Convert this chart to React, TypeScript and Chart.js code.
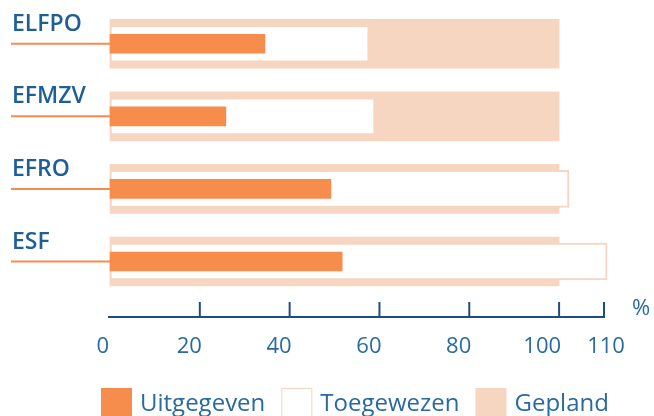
import React, { useEffect, useRef } from "react";
import { Chart, registerables } from "chart.js";

Chart.register(...registerables);

const categories = ["ELFPO", "EFMZV", "EFRO", "ESF"];
const seriesNames = ["Uitgegeven", "Toegewezen", "Gepland"];
const uitgegeven = [34.5, 25.8, 49.2, 51.7];
const toegewezen = [57.7, 59.0, 102.2, 110.7];
const gepland = [100, 100, 100, 100];
const axisTicks = [0, 20, 40, 60, 80, 100, 110];
const axisUnit = "%";

const ORANGE = "#f68d4d";
const PEACH = "#f6d6c0";
const LABEL_BLUE = "#1f5f96";
const TEXT_BLUE = "#2a6aa0";
const AXIS_BLUE = "#1f4e7e";
const FONT = '"Open Sans", "Noto Sans", sans-serif';

const decorPlugin = {
  id: "decor",
  afterDraw(chart: any) {
    const ctx = chart.ctx as CanvasRenderingContext2D;
    const xs = chart.scales.x;
    const ys = chart.scales.y;
    ctx.save();
    const x0 = xs.getPixelForValue(0);
    // category labels and leader lines
    categories.forEach((c, i) => {
      const y = ys.getPixelForValue(i);
      ctx.strokeStyle = ORANGE;
      ctx.lineWidth = 2;
      ctx.beginPath();
      ctx.moveTo(11, y);
      ctx.lineTo(x0, y);
      ctx.stroke();
      ctx.fillStyle = LABEL_BLUE;
      ctx.font = `600 23px ${FONT}`;
      ctx.textAlign = "left";
      ctx.textBaseline = "alphabetic";
      ctx.fillText(c, 12, y - 13);
    });
    // x axis
    const axisY = 317;
    const lastX = xs.getPixelForValue(axisTicks[axisTicks.length - 1]);
    ctx.strokeStyle = AXIS_BLUE;
    ctx.lineWidth = 2;
    ctx.beginPath();
    ctx.moveTo(x0 - 2, axisY);
    ctx.lineTo(lastX + 1, axisY);
    ctx.stroke();
    axisTicks.forEach((t, i) => {
      const x = xs.getPixelForValue(t);
      if (t !== 0) {
        ctx.beginPath();
        ctx.moveTo(x, axisY - 15);
        ctx.lineTo(x, axisY);
        ctx.stroke();
      }
      ctx.fillStyle = TEXT_BLUE;
      ctx.font = `22px ${FONT}`;
      ctx.textBaseline = "alphabetic";
      if (i === axisTicks.length - 1) {
        ctx.textAlign = "center";
        ctx.fillText(String(t), x + 2, 353);
      } else {
        ctx.textAlign = "right";
        ctx.fillText(String(t), t === 0 ? x - 1 : x + 2, 353);
      }
    });
    ctx.textAlign = "left";
    ctx.font = `22px ${FONT}`;
    ctx.fillText(axisUnit, 632, 315);
    // legend
    let lx = 101;
    const boxTop = 388;
    const box = 31;
    ctx.font = `24px ${FONT}`;
    chart.data.datasets.forEach((ds: any) => {
      ctx.fillStyle = ds.legendFill;
      ctx.fillRect(lx, boxTop, box, box);
      if (ds.legendStroke) {
        ctx.strokeStyle = ds.legendStroke;
        ctx.lineWidth = 1;
        ctx.strokeRect(lx + 0.5, boxTop + 0.5, box - 1, box - 1);
      }
      const tx = lx + box + 8;
      ctx.fillStyle = TEXT_BLUE;
      ctx.textAlign = "left";
      ctx.fillText(ds.label, tx, 411);
      lx = tx + ctx.measureText(ds.label).width + 16;
    });
    ctx.restore();
  },
};

export default function App() {
  const ref = useRef<HTMLCanvasElement | null>(null);
  useEffect(() => {
    if (!ref.current) return;
    const toPts = (arr: number[]) => arr.map((v, i) => ({ x: v, y: i }));
    const chart = new Chart(ref.current, {
      type: "bar",
      data: {
        datasets: [
          {
            label: seriesNames[0],
            data: toPts(uitgegeven),
            backgroundColor: ORANGE,
            borderWidth: 0,
            barThickness: 19,
            grouped: false,
            clip: false,
            legendFill: ORANGE,
          } as any,
          {
            label: seriesNames[1],
            data: toPts(toegewezen),
            backgroundColor: "#ffffff",
            borderColor: PEACH,
            borderWidth: 2,
            borderSkipped: false,
            barThickness: 37,
            grouped: false,
            clip: false,
            legendFill: "#ffffff",
            legendStroke: PEACH,
          } as any,
          {
            label: seriesNames[2],
            data: toPts(gepland),
            backgroundColor: PEACH,
            borderWidth: 0,
            barThickness: 49,
            grouped: false,
            clip: false,
            legendFill: PEACH,
          } as any,
        ],
      },
      options: {
        indexAxis: "y",
        responsive: false,
        animation: false,
        layout: { padding: { left: 110, right: 50, top: 0, bottom: 0 } },
        scales: {
          x: { type: "linear", min: 0, max: 110, display: false, offset: false },
          y: { type: "linear", min: -0.602, max: 5.128, reverse: true, display: false, offset: false },
        },
        plugins: { legend: { display: false }, tooltip: { enabled: false } },
      },
      plugins: [decorPlugin],
    } as any);
    return () => chart.destroy();
  }, []);
  return (
    <div style={{ position: "absolute", left: 0, top: 0, width: 654, height: 416, background: "#fff" }}>
      <canvas ref={ref} width={654} height={416} />
    </div>
  );
}
